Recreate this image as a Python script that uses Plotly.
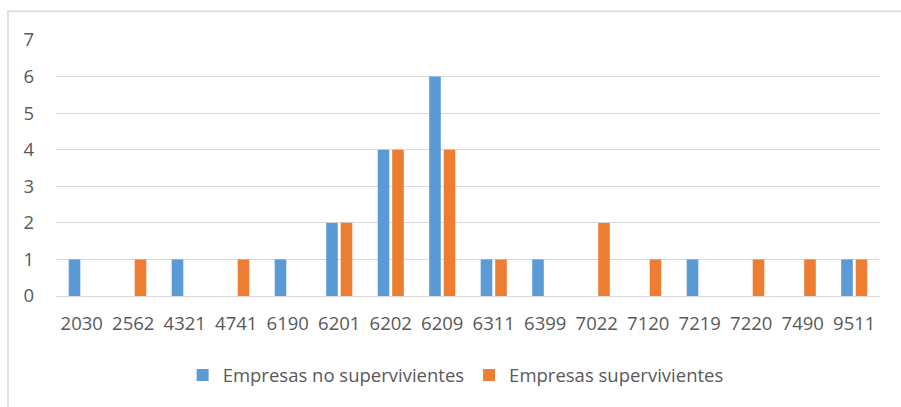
import plotly.graph_objects as go

codigos = ["2030", "2562", "4321", "4741", "6190", "6201", "6202", "6209",
           "6311", "6399", "7022", "7120", "7219", "7220", "7490", "9511"]
no_supervivientes = [1, 0, 1, 0, 1, 2, 4, 6, 1, 1, 0, 0, 1, 0, 0, 1]
supervivientes = [0, 1, 0, 1, 0, 2, 4, 4, 1, 0, 2, 1, 0, 1, 1, 1]
series = ["Empresas no supervivientes", "Empresas supervivientes"]

AZUL = "#5B9BD5"
NARANJA = "#ED7D31"
TEXTO = "#595959"
REJILLA = "#D9D9D9"
FUENTE = "Open Sans"
TAM = 18.5

fig = go.Figure()
for nombre, valores, color in zip(series, [no_supervivientes, supervivientes], [AZUL, NARANJA]):
    fig.add_trace(go.Bar(x=codigos, y=valores, name=nombre, showlegend=False,
                         marker=dict(color=color, line=dict(width=0))))
# square legend keys
for nombre, color in zip(series, [AZUL, NARANJA]):
    fig.add_trace(go.Scatter(x=[None], y=[None], mode="markers", name=nombre,
                             marker=dict(symbol="square", size=12, color=color)))

L, R, T, B = 56, 21, 40, 109
W, H = 901, 407
pw, ph = W - L - R, H - T - B

fig.update_layout(
    width=W, height=H,
    margin=dict(l=L, r=R, t=T, b=B, pad=0),
    paper_bgcolor="white", plot_bgcolor="white",
    barmode="group", bargap=0.437, bargroupgap=0.2,
    font=dict(family=FUENTE, size=TAM, color=TEXTO),
    xaxis=dict(type="category", showgrid=False, showline=False, ticks="",
               ticklabelstandoff=14, tickfont=dict(size=TAM, color=TEXTO)),
    yaxis=dict(range=[0, 7], dtick=1, showgrid=True, gridcolor=REJILLA, gridwidth=1,
               zeroline=True, zerolinecolor=REJILLA, zerolinewidth=1,
               showline=False, ticks="", ticklabelstandoff=21,
               tickfont=dict(size=TAM, color=TEXTO)),
    legend=dict(orientation="h", x=0.485, xanchor="center", y=-0.31, yanchor="middle",
                font=dict(size=TAM, color=TEXTO), itemwidth=30,
                traceorder="normal", itemsizing="constant"),
    showlegend=True,
    shapes=[dict(type="rect", xref="paper", yref="paper",
                 x0=(8 - L) / pw, x1=(W + 5 - L) / pw,
                 y0=(T + ph - (H + 5)) / ph, y1=(T + ph - 11) / ph,
                 line=dict(color=REJILLA, width=1.5), fillcolor="rgba(0,0,0,0)",
                 layer="below")],
)

fig.write_html("out.html")
